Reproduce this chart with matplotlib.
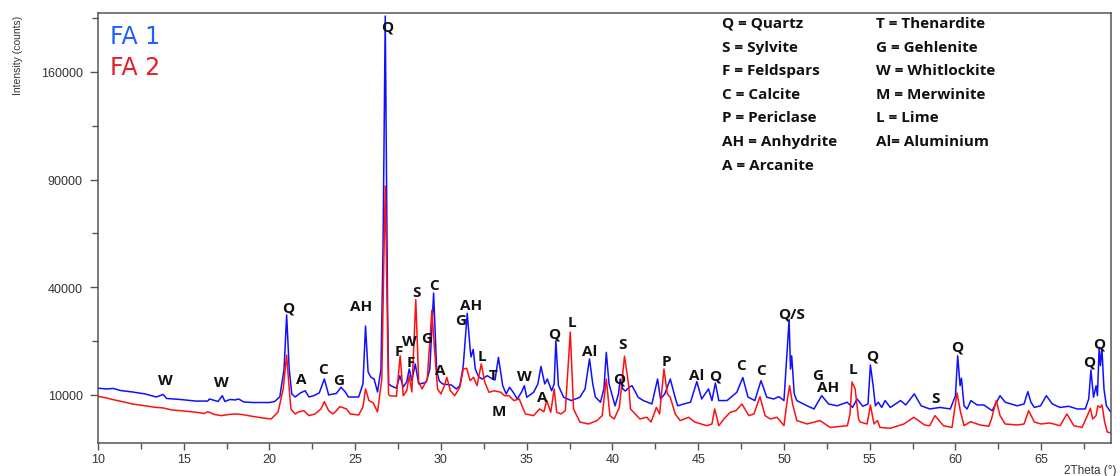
import numpy as np
import matplotlib
matplotlib.use('Agg')
import matplotlib.pyplot as plt

# FA 1 pattern (2Theta, counts)
fa1_theta = [10.0, 10.5, 10.9, 11.3, 12.0, 12.75, 13.4, 13.8, 14.0, 14.8, 15.7, 16.4, 16.5, 17.0,
             17.25, 17.4, 17.7, 18.0, 18.2, 18.5, 19.0, 20.0, 20.3, 20.6, 20.85, 21.0, 21.15, 21.3,
             21.5, 21.8, 22.08, 22.3, 22.6, 22.9, 23.2, 23.45, 23.7, 23.9, 24.17, 24.4, 24.6, 25.2,
             25.45, 25.6, 25.75, 25.9, 26.1, 26.3, 26.5, 26.62, 26.75, 26.88, 26.95, 27.1, 27.4, 27.6,
             27.8, 28.0, 28.15, 28.3, 28.5, 28.7, 29.0, 29.15, 29.35, 29.57, 29.75, 29.9, 30.1, 30.3,
             30.6, 30.9, 31.1, 31.3, 31.53, 31.7, 31.75, 31.88, 32.0, 32.2, 32.4, 32.7, 33.0, 33.15,
             33.35, 33.6, 33.8, 34.0, 34.2, 34.45, 34.7, 34.86, 35.0, 35.4, 35.65, 35.83, 36.05, 36.2,
             36.45, 36.6, 36.7, 36.85, 37.15, 37.6, 38.1, 38.4, 38.66, 38.85, 39.0, 39.3, 39.5, 39.64,
             39.8, 40.15, 40.35, 40.45, 40.6, 40.75, 41.0, 41.14, 41.5, 41.8, 42.3, 42.63, 42.8, 43.05,
             43.37, 43.65, 43.8, 44.15, 44.55, 44.92, 45.2, 45.6, 45.8, 46.0, 46.2, 46.68, 47.25, 47.6,
             47.9, 48.3, 48.66, 49.0, 49.4, 49.7, 50.0, 50.3, 50.38, 50.45, 50.6, 50.75, 51.35, 51.75,
             52.2, 52.6, 53.1, 53.68, 54.0, 54.26, 54.6, 54.9, 55.04, 55.2, 55.33, 55.5, 55.7, 55.9,
             56.2, 56.8, 57.1, 57.6, 58.0, 58.5, 59.1, 59.7, 60.0, 60.13, 60.27, 60.35, 60.5, 60.68,
             60.9, 61.26, 61.65, 62.14, 62.6, 62.9, 63.6, 64.0, 64.22, 64.4, 64.6, 64.96, 65.3, 65.65,
             66.1, 66.6, 67.1, 67.57, 67.77, 67.9, 68.05, 68.2, 68.28, 68.38, 68.45, 68.54, 68.66, 68.8,
             69.05]
fa1_counts = [11300, 11150, 11250, 10850, 10570, 10190, 9630, 10100, 9360, 9180, 8900, 8900, 9270, 8830,
              9870, 8830, 9180, 9100, 9270, 8750, 8650, 8650, 8830, 9630, 15400, 30400, 15400, 10190,
              9630, 10380, 10800, 9630, 9900, 10380, 13190, 10000, 10190, 10280, 11480, 10660, 9630, 9630,
              12150, 26900, 14740, 13620, 13190, 10570, 15400, 55500, 204200, 35770, 12150, 11750, 11300, 13880,
              11540, 12570, 15400, 12830, 16590, 12150, 12350, 12570, 15400, 37900, 14960, 12770, 12150, 12050,
              11950, 11150, 11800, 16200, 30900, 20400, 18300, 20250, 15400, 13620, 13190, 13900, 13190, 12980,
              18200, 11800, 10190, 11480, 10570, 9270, 10570, 11800, 9580, 10500, 12150, 16000, 12150, 13190,
              10800, 12150, 22600, 11800, 9580, 8990, 9580, 11150, 17800, 12150, 9630, 8700, 11150, 19500,
              12150, 8090, 10190, 13190, 11150, 10750, 11540, 11800, 9580, 8990, 8400, 13190, 9270, 10190,
              13190, 9580, 8090, 8400, 8700, 12640, 9270, 11150, 8990, 12350, 8990, 8990, 10500, 13500,
              9630, 8990, 12830, 9580, 9270, 9690, 8990, 28900, 15400, 18600, 10190, 8990, 8090, 7570,
              9870, 8400, 8090, 8700, 7820, 9270, 8010, 8400, 16350, 11800, 8090, 8700, 7820, 8990,
              7820, 8990, 8230, 10190, 8090, 7570, 7820, 7570, 9870, 18600, 11800, 13340, 8090, 7570,
              8990, 8230, 8230, 7300, 9870, 8700, 8090, 8400, 10640, 8700, 7820, 8090, 9870, 8400,
              7820, 8010, 7570, 7570, 9270, 15180, 9580, 11800, 9870, 20800, 16200, 20400, 11150, 8090,
              7100]

# FA 2 pattern (2Theta, counts)
fa2_theta = [10.0, 10.5, 10.9, 11.5, 12.0, 12.75, 13.4, 13.8, 14.3, 15.0, 15.7, 16.2, 16.4, 16.8,
             17.2, 17.6, 18.0, 18.4, 19.0, 19.6, 20.1, 20.5, 20.8, 21.0, 21.15, 21.25, 21.5, 21.7,
             22.0, 22.3, 22.65, 23.0, 23.2, 23.45, 23.7, 23.9, 24.1, 24.5, 24.7, 25.2, 25.45, 25.6,
             25.8, 26.05, 26.3, 26.55, 26.68, 26.75, 26.85, 26.94, 27.0, 27.4, 27.62, 27.8, 28.0, 28.15,
             28.3, 28.53, 28.7, 28.9, 29.2, 29.47, 29.62, 29.8, 30.0, 30.2, 30.34, 30.55, 30.8, 31.1,
             31.3, 31.5, 31.7, 31.9, 32.1, 32.35, 32.55, 32.8, 33.1, 33.5, 33.7, 33.96, 34.25, 34.56,
             34.92, 35.4, 35.75, 36.0, 36.17, 36.4, 36.6, 36.75, 37.0, 37.25, 37.54, 37.73, 38.1, 38.6,
             39.1, 39.4, 39.64, 39.85, 40.1, 40.4, 40.7, 40.95, 41.05, 41.6, 42.0, 42.25, 42.56, 42.75,
             43.0, 43.2, 43.37, 43.66, 43.95, 44.45, 44.8, 45.5, 45.8, 45.96, 46.2, 46.5, 46.87, 47.2,
             47.55, 47.95, 48.25, 48.6, 48.9, 49.2, 49.6, 50.0, 50.2, 50.33, 50.5, 50.75, 51.35, 52.1,
             52.7, 53.7, 53.85, 53.97, 54.15, 54.35, 54.45, 54.85, 55.04, 55.25, 55.45, 55.6, 56.2, 57.0,
             57.57, 58.2, 58.5, 58.8, 59.3, 59.8, 60.09, 60.3, 60.5, 60.88, 61.45, 61.94, 62.1, 62.38,
             62.6, 62.9, 63.6, 64.0, 64.27, 64.6, 65.0, 65.5, 66.1, 66.5, 66.9, 67.38, 67.65, 67.87,
             68.0, 68.2, 68.3, 68.45, 68.55, 68.7, 68.85, 69.05]
fa2_counts = [9760, 9450, 9140, 8750, 8400, 8090, 7820, 7740, 7410, 7250, 7050, 6860, 7140, 6700,
              6530, 6700, 6785, 6700, 6430, 6185, 6040, 7095, 11150, 18800, 11150, 7570, 6785, 7095,
              7300, 6530, 6785, 7570, 8800, 7300, 6785, 7300, 7950, 7570, 6785, 6630, 7900, 11150,
              8990, 8570, 7095, 13190, 55500, 86500, 35770, 10190, 9870, 9760, 18600, 9870, 10800, 13900,
              10570, 35550, 12570, 11150, 13190, 32000, 20400, 11150, 10190, 11800, 13550, 10800, 9870, 11480,
              15400, 15560, 12830, 13550, 11800, 16590, 12570, 10500, 10800, 10500, 9870, 9870, 8990, 9270,
              6785, 6530, 7570, 7140, 8990, 7050, 11150, 7050, 6785, 7300, 25100, 7570, 5600, 5340,
              5810, 6530, 13190, 6530, 6040, 7820, 18500, 11800, 7570, 6040, 6290, 5600, 7820, 6785,
              15400, 10190, 9580, 6785, 5810, 6290, 5600, 5110, 5340, 7570, 5110, 6040, 7050, 7300,
              8400, 6530, 6785, 9690, 6530, 6040, 6290, 5110, 9270, 11800, 8400, 5810, 5340, 5810,
              4880, 5110, 6785, 12570, 11150, 6040, 5600, 5340, 8230, 5340, 5810, 4880, 4770, 5340,
              6290, 5200, 5110, 6530, 5110, 4880, 10380, 7050, 5110, 5650, 5200, 5030, 6040, 8990,
              6530, 5340, 5200, 5340, 7300, 5600, 5340, 5475, 5110, 6785, 5110, 4880, 6290, 7690,
              6040, 6530, 8090, 7820, 8230, 5600, 4310, 4200]

# peak labels: text, 2Theta, counts
peak_text = ['W', 'W', 'Q', 'A', 'C', 'G', 'AH', 'Q', 'F', 'W', 'F', 'S', 'G', 'C', 'A', 'G', 'AH',
             'L', 'T', 'M', 'W', 'A', 'Q', 'L', 'Al', 'Q', 'S', 'P', 'Al', 'Q', 'C', 'C', 'Q/S',
             'G', 'AH', 'L', 'Q', 'S', 'Q', 'Q', 'Q']
peak_theta = [13.9, 17.2, 21.1, 21.85, 23.1, 24.06, 25.34, 26.84, 27.56, 28.17, 28.24, 28.6, 29.14,
              29.57, 29.95, 31.12, 31.74, 32.38, 33.06, 33.4, 34.86, 35.88, 36.6, 37.63, 38.66, 40.4,
              40.59, 43.12, 44.93, 46.0, 47.5, 48.66, 50.47, 51.99, 52.57, 54.0, 55.14, 58.83, 60.13,
              67.78, 68.4]
peak_counts = [12970, 12570, 33000, 13190, 15400, 12970, 33300, 195100, 19850, 22520, 17060, 38260,
               23380, 40970, 15200, 28760, 33700, 18550, 14000, 7250, 13800, 9630, 24800, 28100, 19850,
               13190, 21800, 17300, 14050, 14050, 16350, 15200, 30700, 14050, 11480, 15400, 18550, 9400,
               21050, 17100, 21800]

legend_left = ['Q = Quartz', 'S = Sylvite', 'F = Feldspars', 'C = Calcite', 'P = Periclase',
               'AH = Anhydrite', 'A = Arcanite']
legend_right = ['T = Thenardite', 'G = Gehlenite', 'W = Whitlockite', 'M = Merwinite', 'L = Lime',
                'Al= Aluminium']

fig = plt.figure(figsize=(11.2, 4.77), dpi=100)
ax = fig.add_axes([98 / 1120, 1 - 444 / 477, 1013 / 1120, 430 / 477])

ax.plot(fa1_theta, fa1_counts, color='#1010ff', lw=1.1)
ax.plot(fa2_theta, fa2_counts, color='#ff1010', lw=1.1)

ax.set_yscale('function', functions=(lambda v: np.sqrt(np.clip(v, 0, None)), lambda v: v ** 2))
ax.set_xlim(10, 69.07)
ax.set_ylim(3070, 206750)

ax.set_xticks(range(10, 70, 5))
ax.set_xticks(np.arange(12.5, 69, 5), minor=True)
ax.set_yticks([10000, 40000, 90000, 160000])
ax.set_yticklabels(['10000', '40000', '90000', '160000'])
ax.set_yticks([22500, 62500, 122500, 202500], minor=True)
ax.yaxis.set_minor_formatter(matplotlib.ticker.NullFormatter())

for s in ax.spines.values():
    s.set_color('#555555')
    s.set_linewidth(1.1)
ax.tick_params(axis='both', which='both', direction='out', colors='#555555', labelcolor='#333333',
               labelsize=9, width=1)
ax.tick_params(axis='y', which='major', length=6, pad=5)
ax.tick_params(axis='y', which='minor', length=4)
ax.tick_params(axis='x', which='major', length=5, pad=2.5)
ax.tick_params(axis='x', which='minor', length=4)
for lbl in ax.get_xticklabels() + ax.get_yticklabels():
    lbl.set_family(['Liberation Sans', 'DejaVu Sans'])

lab_font = dict(family=['Open Sans', 'DejaVu Sans'], weight='bold', fontsize=11, color='#111111')
for t, x, y in zip(peak_text, peak_theta, peak_counts):
    ax.text(x, y, t, ha='center', va='center', **lab_font)

for i, t in enumerate(legend_left):
    fig.text(722 / 1120, 1 - (24 + i * 23.6) / 477, t, ha='left', va='center', **lab_font)
for i, t in enumerate(legend_right):
    fig.text(876 / 1120, 1 - (24 + i * 23.6) / 477, t, ha='left', va='center', **lab_font)

fig.text(110 / 1120, 1 - 37 / 477, 'FA 1', color='#2060ff', fontsize=17, ha='left', va='center')
fig.text(110 / 1120, 1 - 68 / 477, 'FA 2', color='#e61e25', fontsize=17, ha='left', va='center')

fig.text(18 / 1120, 1 - 55 / 477, 'Intensity (counts)', rotation=90, ha='center', va='center',
         fontsize=7.5, color='#333333', family=['Liberation Sans', 'DejaVu Sans'])
fig.text(1117 / 1120, 1 - 471 / 477, '2Theta (°)', ha='right', va='center', fontsize=8.5,
         color='#333333', family=['Liberation Sans', 'DejaVu Sans'])

fig.savefig('out.png', dpi=100)
